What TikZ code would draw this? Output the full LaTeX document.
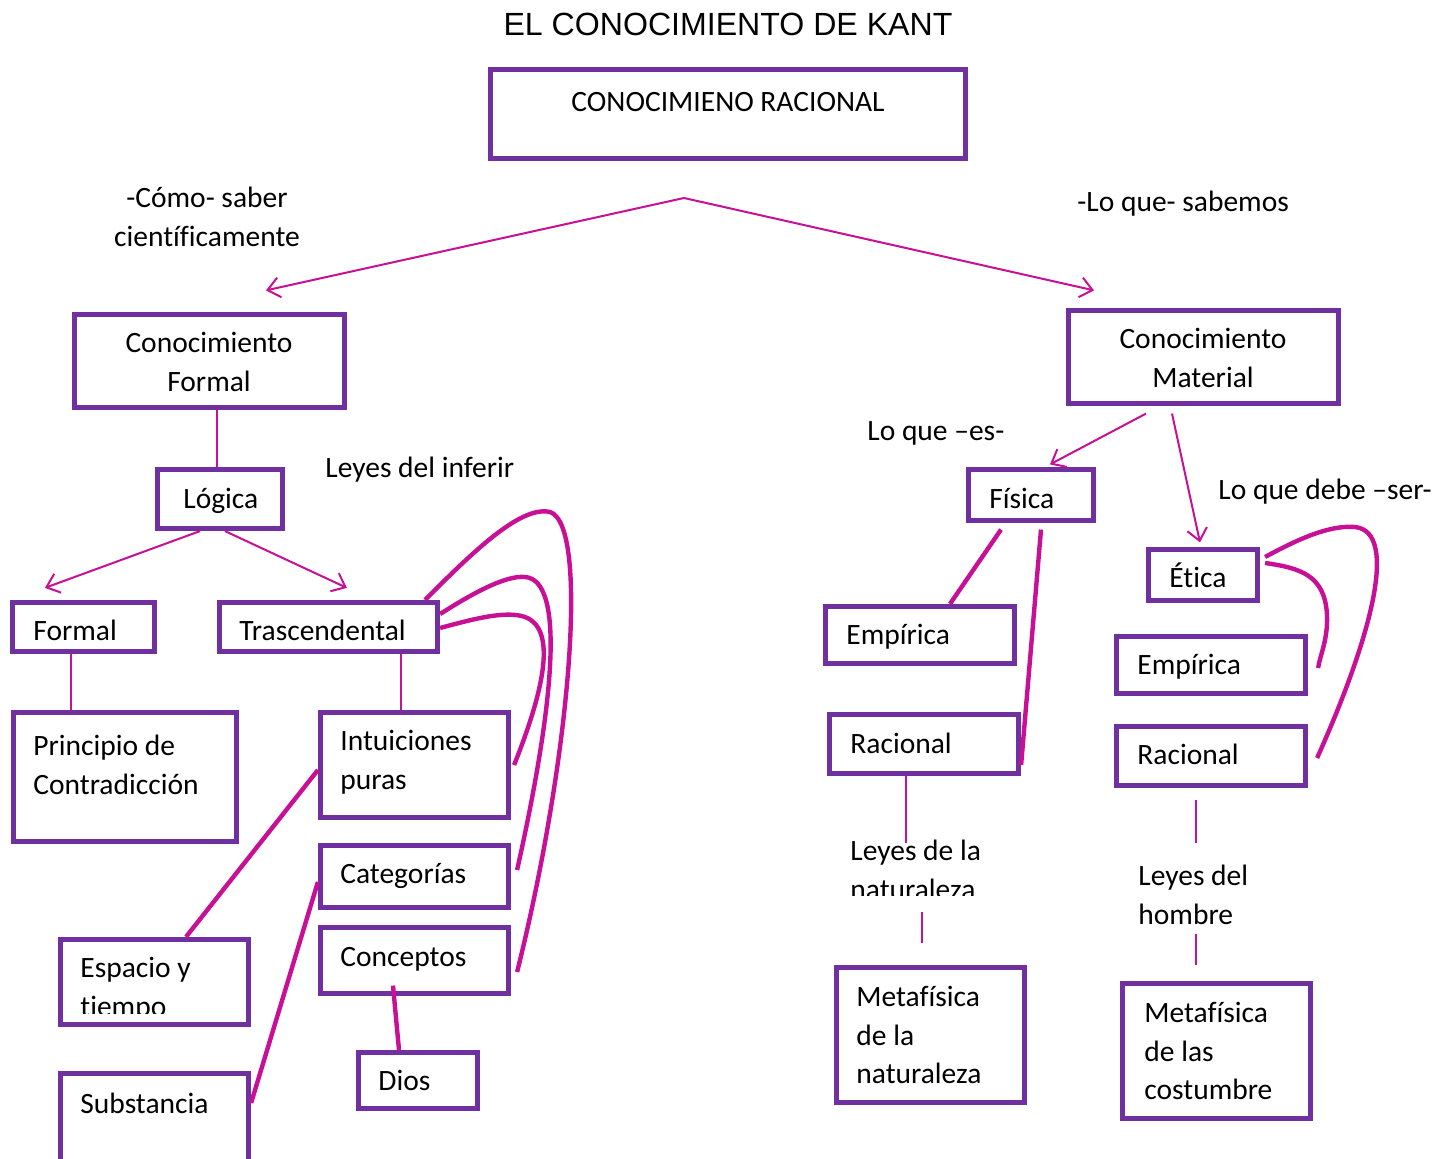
\documentclass[tikz,border=0pt]{standalone}
\usepackage{fontspec}
\setmainfont{Carlito}[Ligatures=CommonOff]
\newfontfamily\arialf{Liberation Sans}
\usetikzlibrary{arrows.meta,fit,calc}
\definecolor{boxpurple}{RGB}{112,48,160}
\definecolor{linkmag}{RGB}{200,16,150}
\newcommand\mll[1]{\begin{tabular}[t]{@{}l@{}}#1\end{tabular}}
\newcommand\mlc[1]{\begin{tabular}[t]{@{}c@{}}#1\end{tabular}}
\begin{document}
\begin{tikzpicture}[x=0.5pt,y=-0.5pt,
  box/.style={draw=boxpurple,line width=2.6pt,inner sep=0pt,rectangle},
  txt/.style={inner sep=0pt,anchor=base west,font=\fontsize{14.75}{19.25}\selectfont},
  ctxt/.style={txt,anchor=base},
  thinlink/.style={draw=linkmag,line width=1pt},
  thicklink/.style={draw=linkmag,line width=2.2pt},
  arr/.style={thinlink,-{Straight Barb[length=6pt,width=10pt]}}]
\useasboundingbox (0,0) rectangle (1447,1159);
\fill[white] (0,0) rectangle (1447,1159);

% title
\node[inner sep=0pt,anchor=base,font=\arialf\fontsize{16.05}{19}\selectfont] (title) at (728,36) {EL CONOCIMIENTO DE KANT};

% boxes
\node[box,fit={(490.5,69.5) (965.5,158.5)}] (rac) {};
\node[box,fit={(74.5,314.5) (344.5,407.5)}] (cf) {};
\node[box,fit={(157.5,469.5) (282.5,528.5)}] (log) {};
\node[box,fit={(12.5,602.5) (154.5,651.5)}] (form) {};
\node[box,fit={(219.5,602.5) (437.5,651.5)}] (tras) {};
\node[box,fit={(13.5,712.5) (236.5,841.5)}] (prin) {};
\node[box,fit={(320.5,712.5) (508.5,817.5)}] (intu) {};
\node[box,fit={(320.5,845.5) (508.5,907.5)}] (cat) {};
\node[box,fit={(320.5,927.5) (508.5,993.5)}] (conc) {};
\node[box,fit={(358.5,1052.5) (477.5,1108.5)}] (dios) {};
\node[box,fit={(60.5,939.5) (248.5,1024.5)}] (esp) {};
\node[box,fit={(60.5,1073.5) (248.5,1175)}] (subs) {};
\node[box,fit={(1068.5,310.5) (1338.5,403.5)}] (cm) {};
\node[box,fit={(968.5,469.5) (1093.5,520.5)}] (fis) {};
\node[box,fit={(825.5,606.5) (1014.5,663.5)}] (empL) {};
\node[box,fit={(829.5,714.5) (1018.5,773.5)}] (racL) {};
\node[box,fit={(836.5,967.5) (1024.5,1102.5)}] (metN) {};
\node[box,fit={(1148.5,549.5) (1257.5,600.5)}] (eti) {};
\node[box,fit={(1116.5,636.5) (1305.5,693.5)}] (empR) {};
\node[box,fit={(1116.5,726.5) (1305.5,785.5)}] (racR) {};
\node[box,fit={(1122.5,983.5) (1310.5,1118.5)}] (metC) {};

% box texts
\node[ctxt] (tRac) at (728,112) {CONOCIMIENO RACIONAL};
\node[ctxt] (tCf) at (209,353) {\mlc{Conocimiento\\Formal}};
\node[txt] (tLog) at (183,509) {Lógica};
\node[txt] (tForm) at (33,641) {Formal};
\node[txt] (tTras) at (239,641) {Trascendental};
\node[txt] (tPrin) at (33,756) {\mll{Principio de\\Contradicción}};
\node[txt] (tIntu) at (340,751) {\mll{Intuiciones\\puras}};
\node[txt] (tCat) at (340,884) {Categorías};
\node[txt] (tConc) at (340,967) {Conceptos};
\node[txt] (tDios) at (378,1091) {Dios};
\begin{scope}
\clip (0,0) rectangle (1447,1014);
\node[txt] (tEsp) at (80,978) {\mll{Espacio y\\tiempo}};
\end{scope}
\node[txt] (tSubs) at (80,1114) {Substancia};
\node[ctxt] (tCm) at (1203,349) {\mlc{Conocimiento\\Material}};
\node[txt] (tFis) at (989,509) {Física};
\node[txt] (tEmpL) at (846,645) {Empírica};
\node[txt] (tRacL) at (850,754) {Racional};
\node[txt] (tMetN) at (856,1007) {\mll{Metafísica\\de la\\naturaleza}};
\node[txt] (tEti) at (1169,588) {Ética};
\node[txt] (tEmpR) at (1137,675) {Empírica};
\node[txt] (tRacR) at (1137,765) {Racional};
\node[txt] (tMetC) at (1144,1023) {\mll{Metafísica\\de las\\costumbre}};

% free labels
\node[ctxt] (lComo) at (207,208) {\mlc{-Cómo- saber\\científicamente}};
\node[txt] (lSab) at (1077,212) {-Lo que- sabemos};
\node[txt] (lInf) at (325,478) {Leyes del inferir};
\node[txt] (lEs) at (867,441) {Lo que –es-};
\node[txt] (lDebe) at (1218,500) {Lo que debe –ser-};
\begin{scope}
\clip (0,0) rectangle (1447,896);
\node[txt] (lNat) at (850,861) {\mll{Leyes de la\\naturaleza}};
\end{scope}
\node[txt] (lHom) at (1138,886) {\mll{Leyes del\\hombre}};

% coordinates
\coordinate (split) at (684,198);
\coordinate (natTop) at (906,843);
\coordinate (natBot) at (922,912);
\coordinate (metNtop) at (922,943);
\coordinate (homTop) at (1196,843);
\coordinate (racRbot) at (1196,800);
\coordinate (homBot) at (1196,934);
\coordinate (metCtop) at (1196,965);

% top arrows
\draw[arr] (split) -- ($(cf.north)+(56.5,-21.5)$);
\draw[arr] (split) -- ($(cm.north)+(-109.5,-17.5)$);

% left tree
\draw[thinlink] (217,0 |- cf.south) -- (217,0 |- log.north);
\draw[arr] (200,0 |- log.south) -- ($(form.north west)+(35,-12)$);
\draw[arr] (225,0 |- log.south) -- ($(tras.north west)+(130,-12)$);
\draw[thinlink] (71,0 |- form.south) -- (71,0 |- prin.north);
\draw[thinlink] (401,0 |- tras.south) -- (401,0 |- intu.north);
\draw[thicklink] (intu.west |- 0,770) -- (186,0 |- esp.north);
\draw[thicklink] (cat.west |- 0,882) -- (subs.east |- 0,1103);
\draw[thicklink] ($(conc.south)+(-21.5,-10.5)$) -- (399,0 |- dios.north);

% Trascendental curves
\draw[thicklink] (425,0 |- tras.north) .. controls (470,555) and (520,505) .. (550,512)
  .. controls (590,525) and (570,760) .. ($(conc.east)+(6,11.5)$);
\draw[thicklink] (tras.east |- 0,614) .. controls (470,595) and (505,575) .. (525,577)
  .. controls (565,580) and (555,700) .. ($(cat.east)+(6,-6.5)$);
\draw[thicklink] ($(tras.east)+(0,1)$) .. controls (470,620) and (505,610) .. (525,617)
  .. controls (560,630) and (540,700) .. ($(intu.east)+(3,0)$);

% right tree
\draw[arr] ($(cm.south)+(-57.5,7.5)$) -- ($(fis.north)+(19,-2.5)$);
\draw[arr] ($(cm.south)+(-31.5,7.5)$) -- ($(eti.north)+(-3,-4.5)$);
\draw[thicklink] ($(fis.south)+(-30,6.5)$) -- (950,0 |- empL.north);
\draw[thicklink] ($(fis.south)+(10,6.5)$) -- ($(racL.east)+(0,21)$);
\draw[thinlink] (906,0 |- racL.south) -- (natTop);
\draw[thinlink] (natBot) -- (metNtop);
\draw[thinlink] (racRbot) -- (homTop);
\draw[thinlink] (homBot) -- (metCtop);
\draw[thicklink] ($(eti.east)+(5,-12)$) .. controls (1300,568) and (1325,575) .. (1327,615)
  .. controls (1328,640) and (1320,655) .. ($(empR.east)+(10,3)$);
\draw[thicklink] ($(eti.east)+(5,-18)$) .. controls (1300,538) and (1330,525) .. (1355,527)
  .. controls (1400,532) and (1370,640) .. ($(racR.east)+(9,2)$);
\end{tikzpicture}
\end{document}
